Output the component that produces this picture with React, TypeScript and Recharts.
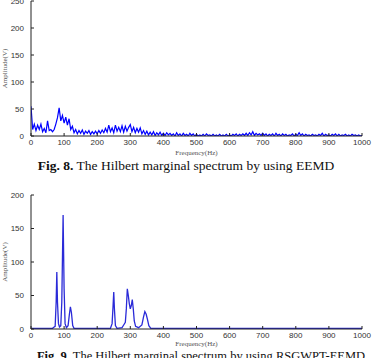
import React from "react";
import { LineChart, Line, XAxis, YAxis } from "recharts";

// EEMD marginal spectrum, sampled every 5 Hz from 0 to 1000 Hz
const FREQ_STEP = 5;
const eemdAmp = [
  55, 12, 22, 10, 20, 12, 22, 8, 14, 6, 28, 10, 12, 8, 12, 22, 34, 52, 28, 38,
  24, 35, 20, 32, 12, 18, 6, 12, 4, 10, 5, 11, 3, 9, 5, 10, 3, 8, 4, 9,
  4, 10, 5, 11, 6, 14, 7, 20, 8, 15, 6, 20, 9, 16, 8, 19, 7, 18, 9, 16,
  21, 8, 16, 6, 14, 7, 15, 4, 10, 3, 9, 2, 7, 2, 8, 1, 6, 2, 7, 1,
  5, 1, 6, 2, 5, 1, 4, 0, 6, 1, 4, 0, 5, 1, 3, 0, 5, 1, 4, 0,
  3, 0, 2, 0, 3, 0, 4, 1, 2, 0, 3, 0, 2, 0, 3, 0, 2, 0, 3, 0,
  2, 0, 3, 1, 4, 0, 3, 1, 4, 1, 5, 1, 6, 2, 8, 1, 5, 2, 4, 1,
  5, 1, 4, 0, 3, 1, 4, 0, 5, 1, 3, 0, 4, 1, 3, 0, 2, 1, 4, 0,
  3, 1, 6, 1, 4, 0, 3, 1, 2, 0, 3, 1, 2, 0, 3, 1, 5, 0, 3, 1,
  2, 0, 3, 1, 4, 0, 3, 0, 2, 1, 3, 0, 2, 0, 3, 1, 2, 0, 2, 0,
  1,
];

// RSGWPT-EEMD marginal spectrum (peaks only need sparse points)
const rsgFreq = [
  0, 50, 65, 70, 73, 76, 78, 80, 83, 86, 90, 93, 97, 100, 103, 107, 112, 116,
  119, 122, 126, 130, 200, 240, 245, 248, 250, 252, 255, 260, 275, 280, 285,
  288, 291, 294, 297, 300, 303, 306, 309, 312, 316, 325, 335, 340, 344, 348,
  352, 356, 362, 400, 1000,
];
const rsgAmp = [
  1, 1, 1, 3, 4, 40, 85, 40, 8, 3, 5, 40, 170, 60, 8, 2, 5, 22,
  33, 25, 5, 1, 1, 1, 8, 35, 55, 30, 5, 1, 2, 6, 10,
  30, 60, 50, 38, 30, 35, 44, 30, 12, 4, 2, 6, 18, 26, 22,
  14, 5, 1, 1, 1,
];

const freqTicks = [0, 100, 200, 300, 400, 500, 600, 700, 800, 900, 1000];
const ampTicksTop = [0, 50, 100, 150, 200, 250];
const ampTicksBottom = [0, 50, 100, 150, 200];

const eemdData = eemdAmp.map((a, i) => ({ f: i * FREQ_STEP, a }));
const rsgData = rsgFreq.map((f, i) => ({ f, a: rsgAmp[i] }));

const FRAME = "#222";
const tickStyle = {
  fontSize: 8,
  fill: "#333",
  fontFamily: "'Liberation Sans', Arial, sans-serif",
};
const labelStyle = {
  fontSize: 7,
  fill: "#555",
  fontFamily: "'Liberation Serif', 'Times New Roman', serif",
};

interface PanelProps {
  data: { f: number; a: number }[];
  yMax: number;
  yTicks: number[];
  height: number;
  marginTop: number;
  marginBottom: number;
  labelOffset: number;
  stroke: string;
  strokeWidth: number;
}

function SpectrumPanel({
  data,
  yMax,
  yTicks,
  height,
  marginTop,
  marginBottom,
  labelOffset,
  stroke,
  strokeWidth,
}: PanelProps) {
  return (
    <LineChart
      width={375}
      height={height}
      data={data}
      margin={{ top: marginTop, right: 13, bottom: marginBottom, left: 0 }}
    >
      <XAxis
        dataKey="f"
        type="number"
        domain={[0, 1000]}
        ticks={freqTicks}
        interval={0}
        allowDataOverflow
        height={20}
        tickSize={-3}
        tickMargin={6}
        tick={tickStyle}
        tickLine={{ stroke: FRAME }}
        axisLine={{ stroke: FRAME }}
        label={{
          value: "Frequency(Hz)",
          position: "insideBottom",
          offset: labelOffset,
          style: labelStyle,
        }}
      />
      <XAxis
        xAxisId="top"
        orientation="top"
        type="number"
        domain={[0, 1000]}
        ticks={freqTicks}
        interval={0}
        allowDataOverflow
        height={0}
        tickSize={-3}
        tick={false}
        tickLine={{ stroke: FRAME }}
        axisLine={{ stroke: FRAME }}
      />
      <YAxis
        type="number"
        domain={[0, yMax]}
        ticks={yTicks}
        interval={0}
        allowDataOverflow
        width={31}
        tickSize={-3}
        tickMargin={10}
        tick={tickStyle}
        tickLine={{ stroke: FRAME }}
        axisLine={{ stroke: FRAME }}
        label={{
          value: "Amplitude(V)",
          angle: -90,
          position: "insideLeft",
          offset: 5,
          style: { ...labelStyle, textAnchor: "middle" },
        }}
      />
      <YAxis
        yAxisId="right"
        orientation="right"
        type="number"
        domain={[0, yMax]}
        ticks={yTicks}
        interval={0}
        allowDataOverflow
        width={0}
        tickSize={-3}
        tick={false}
        tickLine={{ stroke: FRAME }}
        axisLine={{ stroke: FRAME }}
      />
      <Line
        type="linear"
        dataKey="a"
        stroke={stroke}
        strokeWidth={strokeWidth}
        dot={false}
        activeDot={false}
        isAnimationActive={false}
      />
    </LineChart>
  );
}

const captionStyle: React.CSSProperties = {
  position: "absolute",
  width: 400,
  textAlign: "center",
  fontFamily: "'Liberation Serif', 'Times New Roman', serif",
  color: "#111",
  whiteSpace: "nowrap",
};

export default function App() {
  return (
    <div
      style={{
        position: "absolute",
        top: 0,
        left: 0,
        width: 375,
        height: 358,
        overflow: "hidden",
        background: "#fff",
      }}
    >
      <div style={{ position: "absolute", top: 0, left: 0 }}>
        <SpectrumPanel
          data={eemdData}
          yMax={250}
          yTicks={ampTicksTop}
          height={160}
          marginTop={1}
          marginBottom={4}
          labelOffset={1}
          stroke="#0000ff"
          strokeWidth={1.2}
        />
      </div>
      <div
        style={{
          ...captionStyle,
          top: 158,
          left: -14,
          fontSize: 13.5,
          lineHeight: "15px",
        }}
      >
        <b>Fig. 8.</b> The Hilbert marginal spectrum by using EEMD
      </div>
      <div style={{ position: "absolute", top: 180, left: 0 }}>
        <SpectrumPanel
          data={rsgData}
          yMax={200}
          yTicks={ampTicksBottom}
          height={178}
          marginTop={15}
          marginBottom={9}
          labelOffset={3}
          stroke="#2a2ad8"
          strokeWidth={1.3}
        />
      </div>
      <div
        style={{
          ...captionStyle,
          top: 349,
          left: 1,
          fontSize: 12.5,
          lineHeight: "14px",
        }}
      >
        <b>Fig. 9.</b> The Hilbert marginal spectrum by using RSGWPT-EEMD
      </div>
    </div>
  );
}
